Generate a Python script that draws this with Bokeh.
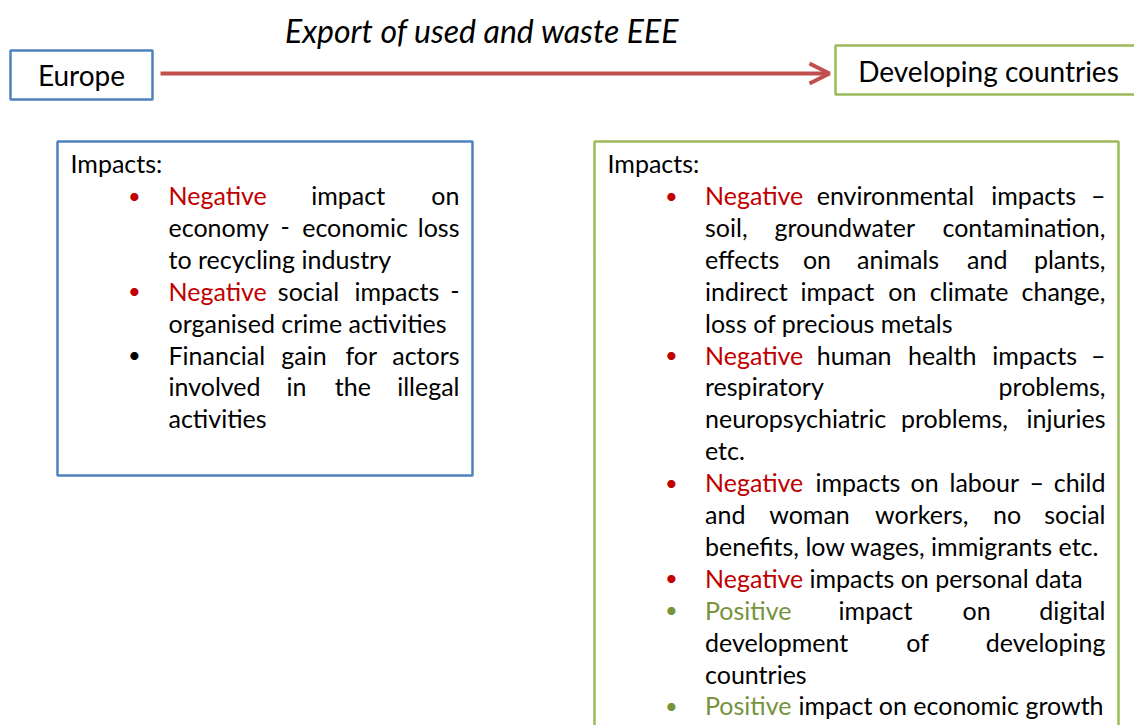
from bokeh.plotting import figure
from bokeh.models import Range1d, ColumnDataSource, Arrow, OpenHead
from bokeh.core.properties import value
from bokeh.embed import file_html
from bokeh.resources import INLINE

# ---------------- content ----------------
TITLE = "Export of used and waste EEE"
SOURCE_LABEL = "Europe"
DEST_LABEL = "Developing countries"
HEADER = "Impacts:"

# Europe box: words per line (first word of a bullet line may be coloured)
EUROPE_TEXT = [
    ["Negative", "impact", "on"],
    ["economy", "-", "economic", "loss"],
    ["to recycling industry"],
    ["Negative", "social", "impacts", "-"],
    ["organised crime activities"],
    ["Financial", "gain", "for", "actors"],
    ["involved", "in", "the", "illegal"],
    ["activities"],
]
EUROPE_BULLETS = {0: "neg", 3: "neg", 5: "plain"}

DEV_TEXT = [
    ["Negative", "environmental", "impacts", "–"],
    ["soil,", "groundwater", "contamination,"],
    ["effects", "on", "animals", "and", "plants,"],
    ["indirect", "impact", "on", "climate", "change,"],
    ["loss of precious metals"],
    ["Negative", "human", "health", "impacts", "–"],
    ["respiratory", "problems,"],
    ["neuropsychiatric", "problems,", "injuries"],
    ["etc."],
    ["Negative", "impacts", "on", "labour", "–", "child"],
    ["and", "woman", "workers,", "no", "social"],
    ["benefits, low wages, immigrants etc."],
    ["Negative", "impacts on personal data"],
    ["Positive", "impact", "on", "digital"],
    ["development", "of", "developing"],
    ["countries"],
    ["Positive", "impact on economic growth"],
]
DEV_BULLETS = {0: "neg", 5: "neg", 9: "neg", 12: "neg", 13: "pos", 16: "pos"}

# ---------------- layout (word left edges; None = flush right) ----------------
EUROPE_WORD_X = [
    [168, 310.7, None],
    [168, 280, 301.7, None],
    [168],
    [168, 277.3, 354, None],
    [168],
    [168, 280.7, 345, None],
    [168, 286, 334.3, None],
    [168],
]
DEV_WORD_X = [
    [704.5, 816.2, 990.8, None],
    [704.5, 773.9, None],
    [704.5, 802.4, 856.5, 966.5, None],
    [704.5, 799.9, 887.7, 929.3, None],
    [704.5],
    [704.5, 816.2, 907.5, 991.8, None],
    [704.5, None],
    [704.5, 900.5, None],
    [704.5],
    [704.5, 815, 910, 949, 1029, None],
    [704.5, 768.7, 874.5, 992.5, None],
    [704.5],
    [704.5, 809],
    [704.5, 838.1, 962, None],
    [704.5, 905.8, None],
    [704.5],
    [704.5, 798],
]

FONT = "Lato"
BODY_SIZE = "25px"
COLORS = {"neg": "#C00000", "pos": "#77933C", "plain": "#000000"}
BLUE = "#4F81BD"
GREEN = "#9BBB59"
ARROW_RED = "#C0504D"

W, H = 1134, 725
p = figure(width=W, height=H, x_range=Range1d(0, W), y_range=Range1d(H, 0),
           output_backend="svg", toolbar_location=None, min_border=0,
           x_axis_location=None, y_axis_location=None)
p.grid.visible = False
p.outline_line_color = None
p.background_fill_color = "white"
p.border_fill_color = "white"

# boxes
boxes = ColumnDataSource(dict(
    left=[10, 835, 57, 594], right=[152, 1150, 472, 1118],
    top=[50, 45, 141, 141], bottom=[99, 94, 475, 760],
    color=[BLUE, GREEN, BLUE, GREEN]))
p.quad(left="left", right="right", top="top", bottom="bottom", source=boxes,
       fill_alpha=0, line_color="color", line_width=2.5)

# arrow
p.add_layout(Arrow(end=OpenHead(size=20, line_color=ARROW_RED, line_width=4),
                   x_start=160, y_start=73, x_end=829, y_end=73,
                   line_color=ARROW_RED, line_width=4))

# title and labels
p.text(x=[481.5], y=[30], text=[TITLE], text_align="center", text_baseline="middle",
       text_font=value(FONT), text_font_style="italic", text_font_size="32px", text_color="black")
p.text(x=[81, 988], y=[74, 70], text=[SOURCE_LABEL, DEST_LABEL], text_align="center",
       text_baseline="middle", text_font=value(FONT), text_font_size="28px", text_color="black")
p.text(x=[70, 607], y=[162.5, 162.5], text=[HEADER, HEADER], text_align="left",
       text_baseline="middle", text_font=value(FONT), text_font_size=BODY_SIZE, text_color="black")

def layout_block(lines, word_x, bullets, bullet_x, right_edge, y0, step):
    rows = dict(x=[], y=[], text=[], color=[], align=[])
    brow = dict(x=[], y=[], text=[], color=[])
    for i, (words, xs) in enumerate(zip(lines, word_x)):
        yc = y0 + step * i
        kind = bullets.get(i)
        if kind is not None:
            brow["x"].append(bullet_x); brow["y"].append(yc)
            brow["text"].append("•"); brow["color"].append(COLORS[kind])
        for j, (w, xw) in enumerate(zip(words, xs)):
            col = COLORS[kind] if (j == 0 and kind in ("neg", "pos")) else "#000000"
            rows["x"].append(right_edge if xw is None else xw)
            rows["align"].append("right" if xw is None else "left")
            rows["y"].append(yc); rows["text"].append(w); rows["color"].append(col)
    return rows, brow

for lines, wx, bl, bx, edge in [(EUROPE_TEXT, EUROPE_WORD_X, EUROPE_BULLETS, 134, 459),
                                (DEV_TEXT, DEV_WORD_X, DEV_BULLETS, 671, 1105)]:
    rows, brow = layout_block(lines, wx, bl, bx, edge, 194.5, 31.9)
    for al in ("left", "right"):
        idx = [k for k, a in enumerate(rows["align"]) if a == al]
        src = ColumnDataSource({k: [rows[k][m] for m in idx] for k in ("x", "y", "text", "color")})
        p.text(x="x", y="y", text="text", text_color="color", source=src, text_align=al,
               text_baseline="middle", text_font=value(FONT), text_font_size=BODY_SIZE)
    p.text(x="x", y="y", text="text", text_color="color", source=ColumnDataSource(brow),
           text_align="center", text_baseline="middle", text_font=value(FONT),
           text_font_size="22px")

open("out.html", "w").write(file_html(p, INLINE))
